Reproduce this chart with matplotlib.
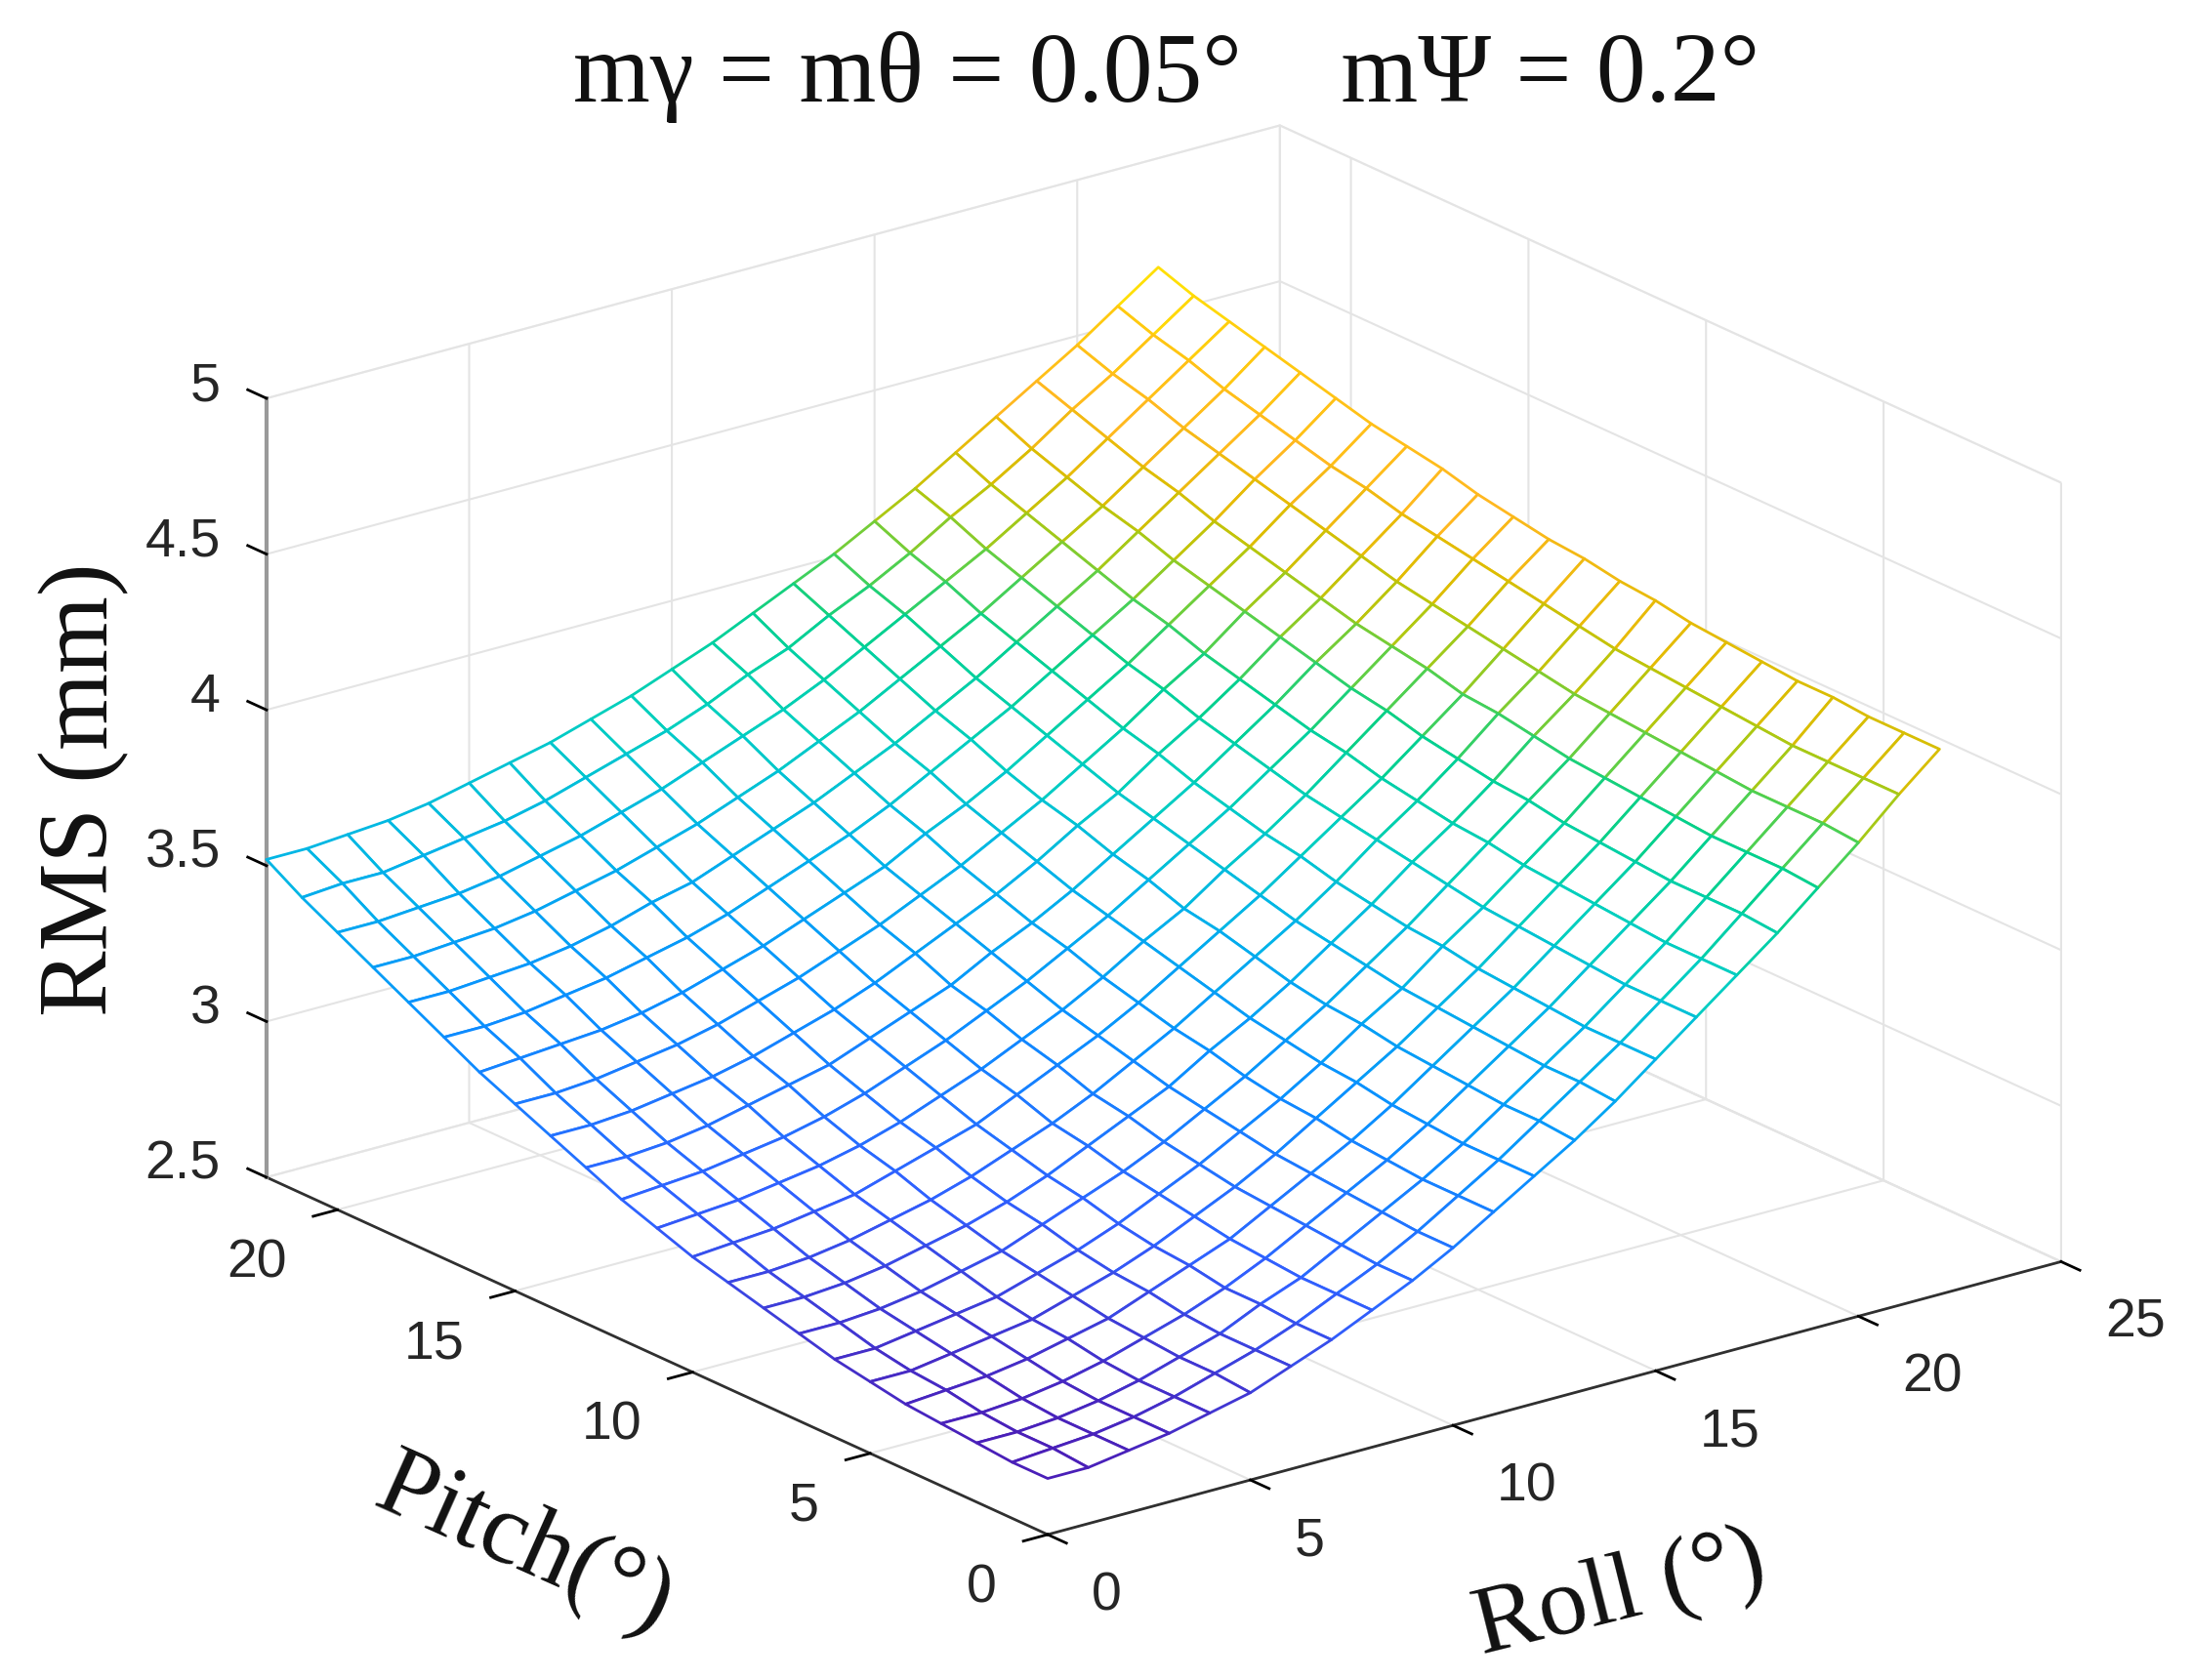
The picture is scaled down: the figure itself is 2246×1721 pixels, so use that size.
import numpy as np
import matplotlib
matplotlib.use("Agg")
import matplotlib.pyplot as plt
from matplotlib.colors import LinearSegmentedColormap, Normalize
from mpl_toolkits.mplot3d import proj3d

# valores
roll = [0, 1, 2, 3, 4, 5, 6, 7, 8, 9, 10, 11, 12, 13, 14, 15, 16, 17, 18, 19, 20, 21, 22]
pitch = [0, 1, 2, 3, 4, 5, 6, 7, 8, 9, 10, 11, 12, 13, 14, 15, 16, 17, 18, 19, 20, 21, 22]

# una fila por cada pitch, una columna por cada roll
rms = [
    [2.68, 2.68, 2.70, 2.72, 2.75, 2.78, 2.83, 2.88, 2.94, 3.00, 3.07, 3.15, 3.23, 3.31, 3.40, 3.50, 3.60, 3.70, 3.80, 3.91, 4.02, 4.14, 4.25],
    [2.68, 2.69, 2.70, 2.72, 2.75, 2.79, 2.83, 2.88, 2.94, 3.00, 3.07, 3.15, 3.23, 3.32, 3.41, 3.50, 3.60, 3.70, 3.81, 3.92, 4.03, 4.14, 4.25],
    [2.69, 2.69, 2.70, 2.72, 2.75, 2.79, 2.83, 2.89, 2.94, 3.01, 3.08, 3.15, 3.23, 3.32, 3.41, 3.50, 3.60, 3.70, 3.81, 3.92, 4.03, 4.14, 4.25],
    [2.70, 2.70, 2.71, 2.73, 2.76, 2.80, 2.84, 2.89, 2.95, 3.02, 3.09, 3.16, 3.24, 3.33, 3.42, 3.51, 3.61, 3.71, 3.81, 3.92, 4.03, 4.14, 4.26],
    [2.71, 2.72, 2.73, 2.75, 2.78, 2.81, 2.86, 2.91, 2.96, 3.03, 3.10, 3.17, 3.25, 3.34, 3.43, 3.52, 3.62, 3.72, 3.82, 3.93, 4.04, 4.15, 4.26],
    [2.73, 2.73, 2.75, 2.77, 2.79, 2.83, 2.87, 2.92, 2.98, 3.04, 3.11, 3.19, 3.27, 3.35, 3.44, 3.53, 3.63, 3.73, 3.83, 3.94, 4.05, 4.16, 4.27],
    [2.75, 2.75, 2.77, 2.79, 2.81, 2.85, 2.89, 2.94, 3.00, 3.06, 3.13, 3.20, 3.28, 3.37, 3.45, 3.55, 3.64, 3.74, 3.84, 3.95, 4.06, 4.17, 4.28],
    [2.78, 2.78, 2.79, 2.81, 2.84, 2.87, 2.92, 2.97, 3.02, 3.08, 3.15, 3.22, 3.30, 3.38, 3.47, 3.56, 3.66, 3.76, 3.86, 3.96, 4.07, 4.18, 4.29],
    [2.81, 2.81, 2.82, 2.84, 2.87, 2.90, 2.94, 2.99, 3.05, 3.11, 3.17, 3.25, 3.32, 3.40, 3.49, 3.58, 3.68, 3.77, 3.87, 3.98, 4.08, 4.19, 4.31],
    [2.84, 2.84, 2.85, 2.87, 2.90, 2.93, 2.97, 3.02, 3.07, 3.13, 3.20, 3.27, 3.35, 3.43, 3.51, 3.60, 3.70, 3.79, 3.89, 4.00, 4.10, 4.21, 4.32],
    [2.87, 2.88, 2.89, 2.91, 2.93, 2.97, 3.01, 3.05, 3.11, 3.17, 3.23, 3.30, 3.38, 3.46, 3.54, 3.63, 3.72, 3.81, 3.91, 4.01, 4.12, 4.23, 4.34],
    [2.91, 2.92, 2.93, 2.95, 2.97, 3.00, 3.04, 3.09, 3.14, 3.20, 3.26, 3.33, 3.41, 3.48, 3.57, 3.65, 3.74, 3.84, 3.94, 4.04, 4.14, 4.25, 4.35],
    [2.95, 2.96, 2.97, 2.99, 3.01, 3.04, 3.08, 3.13, 3.18, 3.24, 3.30, 3.37, 3.44, 3.52, 3.60, 3.68, 3.77, 3.86, 3.96, 4.06, 4.16, 4.27, 4.37],
    [3.00, 3.00, 3.01, 3.03, 3.06, 3.09, 3.12, 3.17, 3.22, 3.27, 3.34, 3.40, 3.47, 3.55, 3.63, 3.71, 3.80, 3.89, 3.99, 4.08, 4.18, 4.29, 4.39],
    [3.05, 3.05, 3.06, 3.08, 3.10, 3.13, 3.17, 3.21, 3.26, 3.32, 3.38, 3.44, 3.51, 3.59, 3.66, 3.75, 3.83, 3.92, 4.02, 4.11, 4.21, 4.31, 4.42],
    [3.10, 3.10, 3.11, 3.13, 3.15, 3.18, 3.22, 3.26, 3.31, 3.36, 3.42, 3.48, 3.55, 3.62, 3.70, 3.78, 3.87, 3.95, 4.05, 4.14, 4.24, 4.34, 4.44],
    [3.15, 3.16, 3.17, 3.18, 3.20, 3.23, 3.27, 3.31, 3.36, 3.41, 3.46, 3.53, 3.59, 3.66, 3.74, 3.82, 3.90, 3.99, 4.08, 4.17, 4.27, 4.36, 4.46],
    [3.21, 3.21, 3.22, 3.24, 3.26, 3.29, 3.32, 3.36, 3.41, 3.46, 3.51, 3.57, 3.64, 3.71, 3.78, 3.86, 3.94, 4.02, 4.11, 4.20, 4.30, 4.39, 4.49],
    [3.27, 3.27, 3.28, 3.29, 3.31, 3.34, 3.38, 3.41, 3.46, 3.51, 3.56, 3.62, 3.68, 3.75, 3.82, 3.90, 3.98, 4.06, 4.15, 4.24, 4.33, 4.42, 4.52],
    [3.33, 3.33, 3.34, 3.35, 3.37, 3.40, 3.43, 3.47, 3.51, 3.56, 3.61, 3.67, 3.73, 3.80, 3.87, 3.94, 4.02, 4.10, 4.18, 4.27, 4.36, 4.45, 4.55],
    [3.39, 3.39, 3.40, 3.41, 3.43, 3.46, 3.49, 3.53, 3.57, 3.62, 3.67, 3.72, 3.78, 3.85, 3.92, 3.99, 4.06, 4.14, 4.22, 4.31, 4.40, 4.49, 4.58],
    [3.45, 3.46, 3.46, 3.48, 3.50, 3.52, 3.55, 3.59, 3.63, 3.67, 3.72, 3.78, 3.83, 3.90, 3.96, 4.03, 4.11, 4.18, 4.26, 4.35, 4.43, 4.52, 4.61],
    [3.52, 3.52, 3.53, 3.54, 3.56, 3.59, 3.62, 3.65, 3.69, 3.73, 3.78, 3.83, 3.89, 3.95, 4.01, 4.08, 4.15, 4.23, 4.31, 4.39, 4.47, 4.56, 4.65],
]

roll_ticks = [0, 5, 10, 15, 20, 25]
pitch_ticks = [0, 5, 10, 15, 20]
rms_ticks = [2.5, 3, 3.5, 4, 4.5, 5]
rms_tick_labels = ["2.5", "3", "3.5", "4", "4.5", "5"]

W, H = 2246, 1721

# parecido al parula de matlab
colores = [(0, "#4a1fb8"), (0.12, "#3060ff"), (0.27, "#0a90ff"), (0.40, "#00b4e8"),
           (0.50, "#00cfc0"), (0.60, "#00d090"), (0.66, "#50d050"), (0.72, "#b0c810"),
           (0.78, "#e0bc00"), (0.84, "#ffb820"), (0.92, "#ffc810"), (1, "#ffee00")]
parula = LinearSegmentedColormap.from_list("parula_aprox", colores)

X, Y = np.meshgrid(roll, pitch)
Z = np.array(rms)

plt.rcParams["font.family"] = ["Liberation Sans", "DejaVu Sans"]
plt.rcParams["grid.color"] = "#e4e4e4"
plt.rcParams["grid.linewidth"] = 1.5

fig = plt.figure(figsize=(W / 100, H / 100), dpi=100)
ax = fig.add_axes([0, 0, 1, 1], projection="3d", proj_type="ortho")
ax.view_init(elev=20.55, azim=-127.5)
ax.set_box_aspect((1308, 1314, 852), zoom=1.2)
ax.patch.set_alpha(0)

# la malla: caras blancas y aristas con el color de z
surf = ax.plot_surface(X, Y, Z, rstride=1, cstride=1, color="white", shade=False,
                       linewidth=2.0, antialiased=True)
celdas = (Z[:-1, :-1] + Z[1:, :-1] + Z[:-1, 1:] + Z[1:, 1:]) / 4
norm = Normalize(vmin=Z.min(), vmax=Z.max())
surf.set_edgecolor(parula(norm(celdas)).reshape(-1, 4))
surf.set_facecolor("white")
surf.set_clip_on(False)

ax.set_xlim(0, 25, view_margin=0)
ax.set_ylim(0, 22, view_margin=0)
ax.set_zlim(2.5, 5, view_margin=0)
ax.set_xticks(roll_ticks)
ax.set_yticks(pitch_ticks)
ax.set_zticks(rms_ticks)
ax.set_xticklabels([])
ax.set_yticklabels([])
ax.set_zticklabels([])
ax.zaxis.set_ticks_position("upper")

for eje in (ax.xaxis, ax.yaxis, ax.zaxis):
    eje.pane.set_facecolor("white")
    eje.pane.set_edgecolor("#e4e4e4")
    eje.pane.set_linewidth(1.5)
    eje._axinfo["tick"]["inward_factor"] = 0.3
    eje._axinfo["tick"]["outward_factor"] = 0
    eje._axinfo["tick"]["linewidth"] = {True: 2, False: 1}
    eje._axinfo["tick"]["color"] = "#262626"

# los ticks de z van en la direccion de pitch
ax.zaxis._get_tickdir = lambda pos: 1
ax.zaxis._axinfo["tick"]["inward_factor"] = 0
ax.zaxis._axinfo["tick"]["outward_factor"] = 0.3

ax.xaxis.line.set_color("#303030")
ax.yaxis.line.set_color("#303030")
ax.zaxis.line.set_color("#9a9a9a")
ax.xaxis.line.set_linewidth(2)
ax.yaxis.line.set_linewidth(2)
ax.zaxis.line.set_linewidth(3)


def pix(x, y, z):
    # posicion en pixeles de un punto 3D
    px, py, _ = proj3d.proj_transform(x, y, z, ax.get_proj())
    return ax.transData.transform((px, py))


# ajustar zoom y posicion para que la caja caiga donde en la referencia
fig.canvas.draw()
ancho = pix(25, 0, 2.5)[0] - pix(0, 22, 2.5)[0]
ax.set_box_aspect((1308, 1314, 852), zoom=1.2 * (2110 - 272) / ancho)
fig.canvas.draw()
p0 = pix(0, 0, 2.5)
ax.set_position([(1073 - p0[0]) / W, ((H - 1572) - p0[1]) / H, 1, 1])
fig.canvas.draw()

# etiquetas de los ticks, separadas del eje como en la referencia
for v in roll_ticks:
    px, py = pix(v, 0, 2.5)
    fig.text((px + 45) / W, (py - 63) / H, str(v), fontsize=40, color="#262626", ha="left", va="center")
for v in pitch_ticks:
    px, py = pix(0, v, 2.5)
    fig.text((px - 52) / W, (py - 55) / H, str(v), fontsize=40, color="#262626", ha="right", va="center")
for v, lab in zip(rms_ticks, rms_tick_labels):
    px, py = pix(0, 22, v)
    fig.text((px - 47) / W, (py + 12) / H, lab, fontsize=40, color="#262626", ha="right", va="center")

serif = ["Liberation Serif", "DejaVu Serif"]
fig.text(0.5318, 1 - 79 / H, "mγ = mθ = 0.05°    mΨ = 0.2°", family=serif, fontsize=73,
         ha="center", va="center", color="#111111")
fig.text(86 / W, 1 - 809 / H, "RMS (mm)", family=serif, fontsize=73, rotation=90,
         ha="center", va="center", color="#111111")
fig.text(537 / W, 1 - 1584 / H, "Pitch(°)", family=serif, fontsize=74, rotation=-24,
         ha="center", va="center", rotation_mode="anchor", color="#111111")
fig.text(1659 / W, 1 - 1634 / H, "Roll (°)", family=serif, fontsize=72, rotation=14,
         ha="center", va="center", rotation_mode="anchor", color="#111111")

fig.savefig("out.png", dpi=100)
